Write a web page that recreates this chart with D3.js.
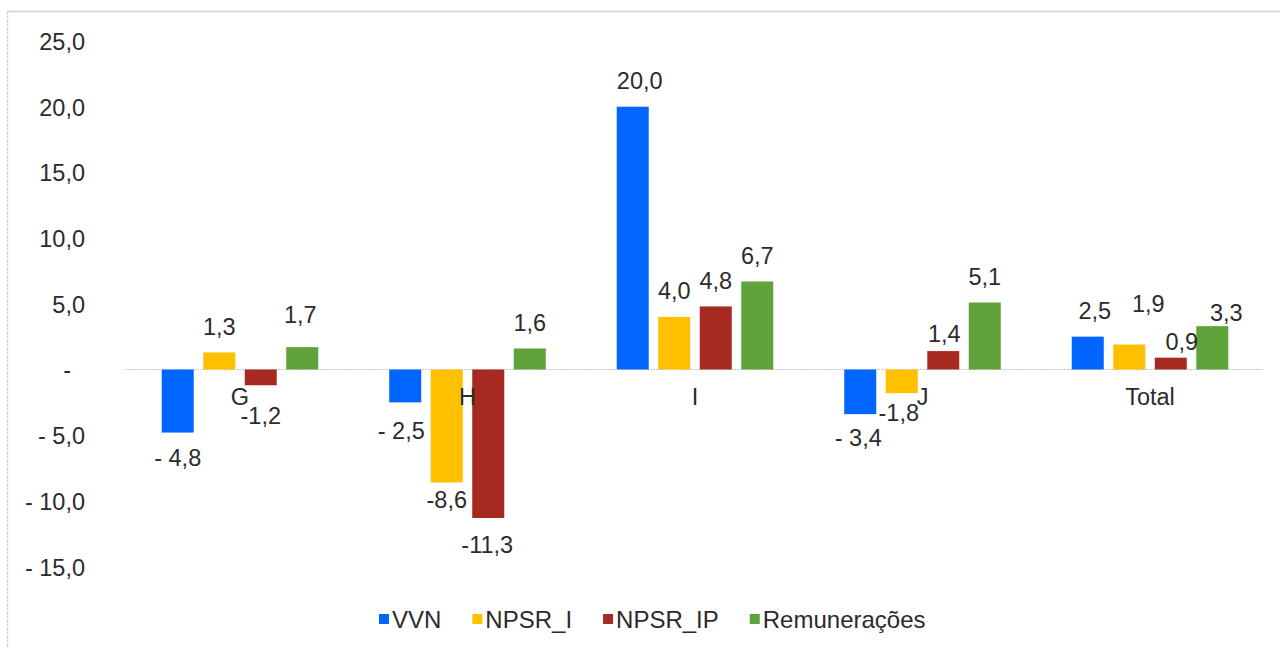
<!DOCTYPE html>
<html>
<head>
<meta charset="utf-8">
<script src="https://cdn.jsdelivr.net/npm/d3@7"></script>
<style>
  html, body { margin: 0; padding: 0; background: #ffffff; }
  svg { display: block; font-family: "Liberation Sans", Arial, sans-serif; }
</style>
</head>
<body>
<svg id="chart" width="1280" height="648"></svg>
<script>
// ---- data ----
const categories = ["G", "H", "I", "J", "Total"];
const seriesNames = ["VVN", "NPSR_I", "NPSR_IP", "Remunerações"];
const VVN = [-4.8, -2.5, 20.0, -3.4, 2.5];
const NPSR_I = [1.3, -8.6, 4.0, -1.8, 1.9];
const NPSR_IP = [-1.2, -11.3, 4.8, 1.4, 0.9];
const Remuneracoes = [1.7, 1.6, 6.7, 5.1, 3.3];
const yTicks = [-15, -10, -5, 0, 5, 10, 15, 20, 25];

// ---- layout / style (kept separate from data) ----
const colors = ["#0066FF", "#FFC000", "#A62A1F", "#5FA33A"];
const accountingStyle = [true, false, false, false];
// small manual nudges [dx, dy] of the data labels, as placed in the original
const labelNudge = [
  [[0, 0], [-4, 3], [7, 0], [-2, -2], [7, 0]],
  [[0, 0], [0, -8], [0, 0], [-3, -6], [19, -15]],
  [[0, 5], [-1, 2], [0, 0], [1, 8], [11, 10]],
  [[-2, -7], [0, 0], [0, 0], [0, 0], [14, 12]]
];

const values = [VVN, NPSR_I, NPSR_IP, Remuneracoes];
const rows = [];
seriesNames.forEach((s, si) => {
  categories.forEach((c, ci) => {
    rows.push({ series: s, si, cat: c, ci, value: values[si][ci] });
  });
});

const svg = d3.select("#chart");
const W = 1280, H = 648;
const textColor = "#2b2b2b";
const fs = 23.5;
const legendFs = 24;

// frame lines (top and left edges of chart area)
svg.append("line").attr("x1", 7.5).attr("x2", W).attr("y1", 11.5).attr("y2", 11.5)
  .attr("stroke", "#d9d9d9").attr("stroke-width", 2);
svg.append("line").attr("x1", 7.5).attr("x2", 7.5).attr("y1", 11.5).attr("y2", H)
  .attr("stroke", "#d0d0d0").attr("stroke-width", 1.5).attr("stroke-dasharray", "3,1");

const locale = d3.formatLocale({ decimal: ",", thousands: ".", grouping: [3], currency: ["", ""] });
const f1 = locale.format(".1f");
const fmtAcc = v => v === 0 ? "-" : (v < 0 ? "- " + f1(-v) : f1(v));
const fmtPlain = v => v < 0 ? "-" + f1(-v) : f1(v);

const x0 = d3.scaleBand().domain(categories).range([126, 1264]).paddingInner(0.27).paddingOuter(0.136);
const x1 = d3.scaleBand().domain(seriesNames).range([0, x0.bandwidth()]).paddingInner(0.229).paddingOuter(0.115);
const y = d3.scaleLinear().domain([-15, 25]).range([566.6, 41]);

// y axis
const yAxis = svg.append("g").attr("transform", "translate(85,0)")
  .call(d3.axisLeft(y).tickValues(yTicks).tickSize(0).tickPadding(0).tickFormat(fmtAcc));
yAxis.select(".domain").remove();
yAxis.selectAll("text")
  .attr("font-size", fs).attr("fill", textColor)
  .attr("font-family", "'Liberation Sans', Arial, sans-serif")
  .attr("dy", "0.36em")
  .attr("x", d => d === 0 ? -14 : 0);

// zero line
svg.append("line")
  .attr("x1", 125).attr("x2", 1263)
  .attr("y1", y(0)).attr("y2", y(0))
  .attr("stroke", "#c8c8c8").attr("stroke-width", 1).attr("stroke-dasharray", "2,1");

// bars
svg.append("g").selectAll("rect").data(rows).join("rect")
  .attr("x", d => x0(d.cat) + x1(d.series))
  .attr("width", x1.bandwidth())
  .attr("y", d => y(Math.max(0, d.value)))
  .attr("height", d => Math.abs(y(d.value) - y(0)))
  .attr("fill", d => colors[d.si]);

// category axis (labels just under the zero line)
const xAxis = svg.append("g").attr("transform", `translate(0,${y(0)})`)
  .call(d3.axisBottom(x0).tickSize(0).tickPadding(0));
xAxis.select(".domain").remove();
xAxis.selectAll("text")
  .attr("font-size", fs).attr("fill", textColor)
  .attr("font-family", "'Liberation Sans', Arial, sans-serif")
  .attr("y", 27).attr("dy", "0.36em");

// data labels
svg.append("g").selectAll("text").data(rows).join("text")
  .attr("text-anchor", "middle")
  .attr("font-size", fs).attr("fill", textColor)
  .attr("x", d => x0(d.cat) + x1(d.series) + x1.bandwidth() / 2 + labelNudge[d.si][d.ci][0])
  .attr("y", d => (d.value >= 0 ? y(d.value) - 26 : y(d.value) + 25) + labelNudge[d.si][d.ci][1])
  .attr("dy", "0.36em")
  .text(d => accountingStyle[d.si] ? fmtAcc(d.value) : fmtPlain(d.value));

// legend
const legend = svg.append("g");
let lx = 379;
const legendY = 619;
seriesNames.forEach((s, i) => {
  const g = legend.append("g");
  g.append("rect").attr("x", lx).attr("y", legendY - 5).attr("width", 10).attr("height", 10).attr("fill", colors[i]);
  const t = g.append("text").attr("x", lx + 13).attr("y", legendY).attr("dy", "0.36em")
    .attr("font-size", legendFs).attr("fill", textColor).text(s);
  lx += 13 + t.node().getComputedTextLength() + 31;
});
</script>
</body>
</html>
